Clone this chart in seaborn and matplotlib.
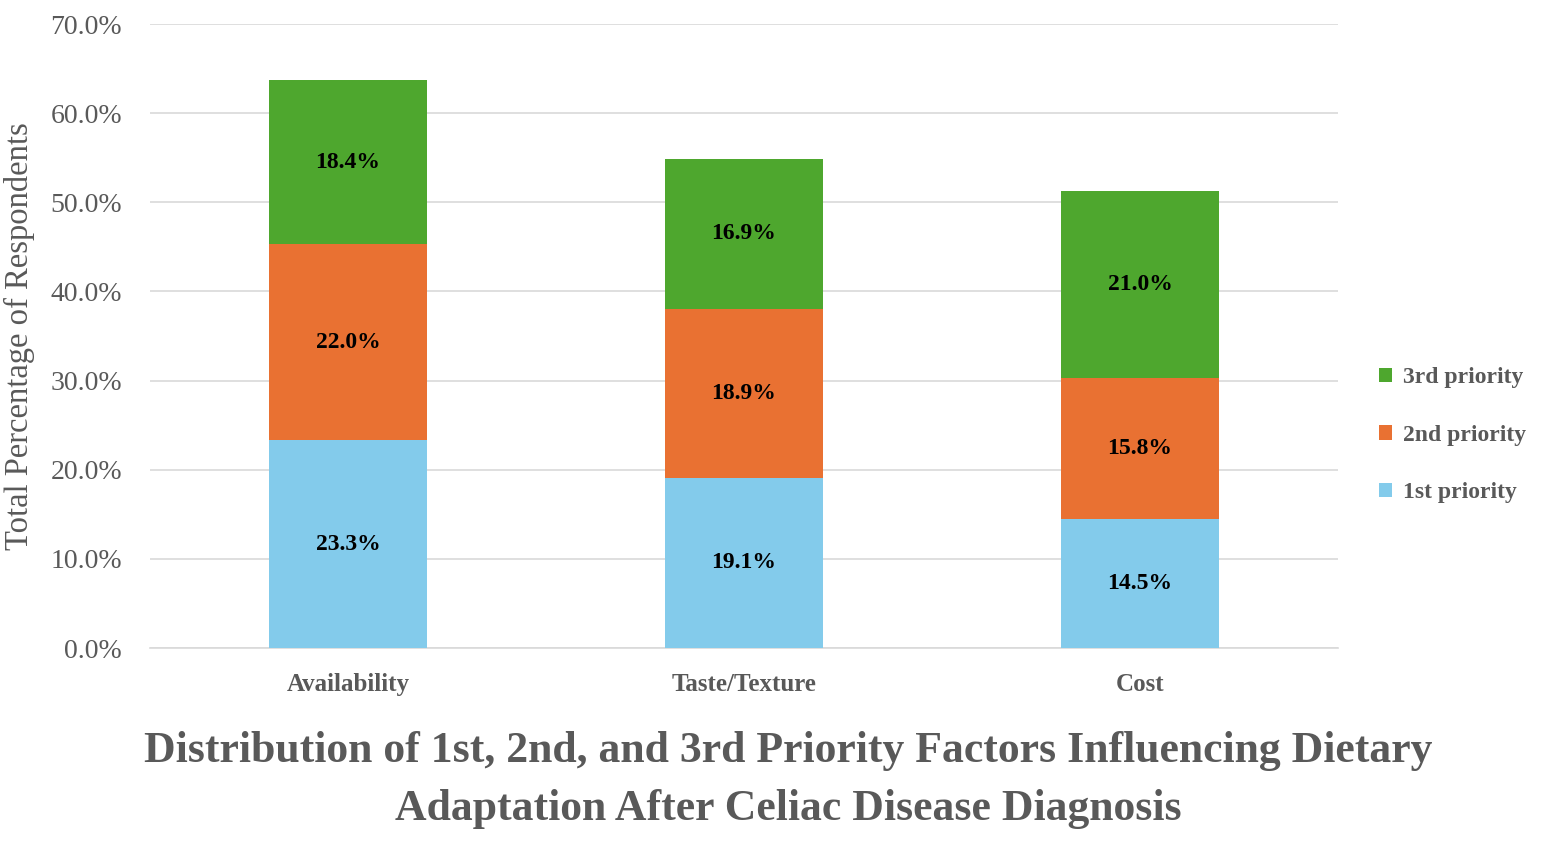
import matplotlib
matplotlib.use("Agg")
import matplotlib.pyplot as plt
import seaborn as sns
import pandas as pd
from matplotlib.patches import Patch
from matplotlib.ticker import FuncFormatter

categories = ["Availability", "Taste/Texture", "Cost"]
first_priority = [23.3, 19.1, 14.5]
second_priority = [22.0, 18.9, 15.8]
third_priority = [18.4, 16.9, 21.0]
series_names = ["1st priority", "2nd priority", "3rd priority"]
colors = ["#83CBEB", "#E97132", "#4EA72E"]
yticks = [0, 10, 20, 30, 40, 50, 60, 70]

sns.set_theme(style="white")
plt.rcParams['font.family'] = ['Liberation Serif', 'DejaVu Serif']

fig = plt.figure(figsize=(15.45, 8.46), dpi=100)
ax = fig.add_axes([0.0971, 0.234, 0.7689, 0.7376])

grey = "#595959"
series = [first_priority, second_priority, third_priority]
bottom = [0.0] * len(categories)
for name, vals, col in zip(series_names, series, colors):
    df = pd.DataFrame({"cat": categories, "val": vals})
    sns.barplot(data=df, x="cat", y="val", bottom=bottom, color=col, width=0.4,
                ax=ax, saturation=1, zorder=3, linewidth=0)
    for i, v in enumerate(vals):
        ax.text(i, bottom[i] + v / 2, f"{v:.1f}%", ha="center", va="center",
                fontsize=17, fontweight="bold", color="black", zorder=4)
    bottom = [b + v for b, v in zip(bottom, vals)]

ax.set_xlim(-0.5, 2.5)
ax.set_ylim(0, 70)
ax.set_yticks(yticks)
ax.yaxis.set_major_formatter(FuncFormatter(lambda v, p: f"{v:.1f}%"))
ax.grid(axis="y", color="#D9D9D9", linewidth=1.2, zorder=0)
ax.set_axisbelow(True)
for s in ["top", "right", "left"]:
    ax.spines[s].set_visible(False)
ax.spines["bottom"].set_color("#D9D9D9")
ax.spines["bottom"].set_linewidth(1.2)
ax.tick_params(axis="y", labelsize=20, colors=grey, length=0, pad=20)
ax.tick_params(axis="x", labelsize=18, colors=grey, length=0, pad=18)
for t in ax.get_xticklabels():
    t.set_fontweight("bold")
ax.set_xlabel("")
ax.set_ylabel("Total Percentage of Respondents", fontsize=23.5, color=grey)
ax.yaxis.set_label_coords(-0.0966, 0.5)

handles = [Patch(facecolor=c, edgecolor="none") for c in colors[::-1]]
leg = ax.legend(handles, series_names[::-1], loc="center left",
                bbox_to_anchor=(1.027, 0.341), frameon=False, fontsize=17,
                labelcolor=grey, handlelength=0.55, handleheight=0.55,
                handletextpad=0.45, labelspacing=1.55, borderaxespad=0)
for t in leg.get_texts():
    t.set_fontweight("bold")

fig.text(0.51, 0.078, "Distribution of 1st, 2nd, and 3rd Priority Factors Influencing Dietary\nAdaptation After Celiac Disease Diagnosis",
         ha="center", va="center", fontsize=31.5, fontweight="bold", color=grey,
         linespacing=1.55)

fig.savefig("out.png", dpi=100)
